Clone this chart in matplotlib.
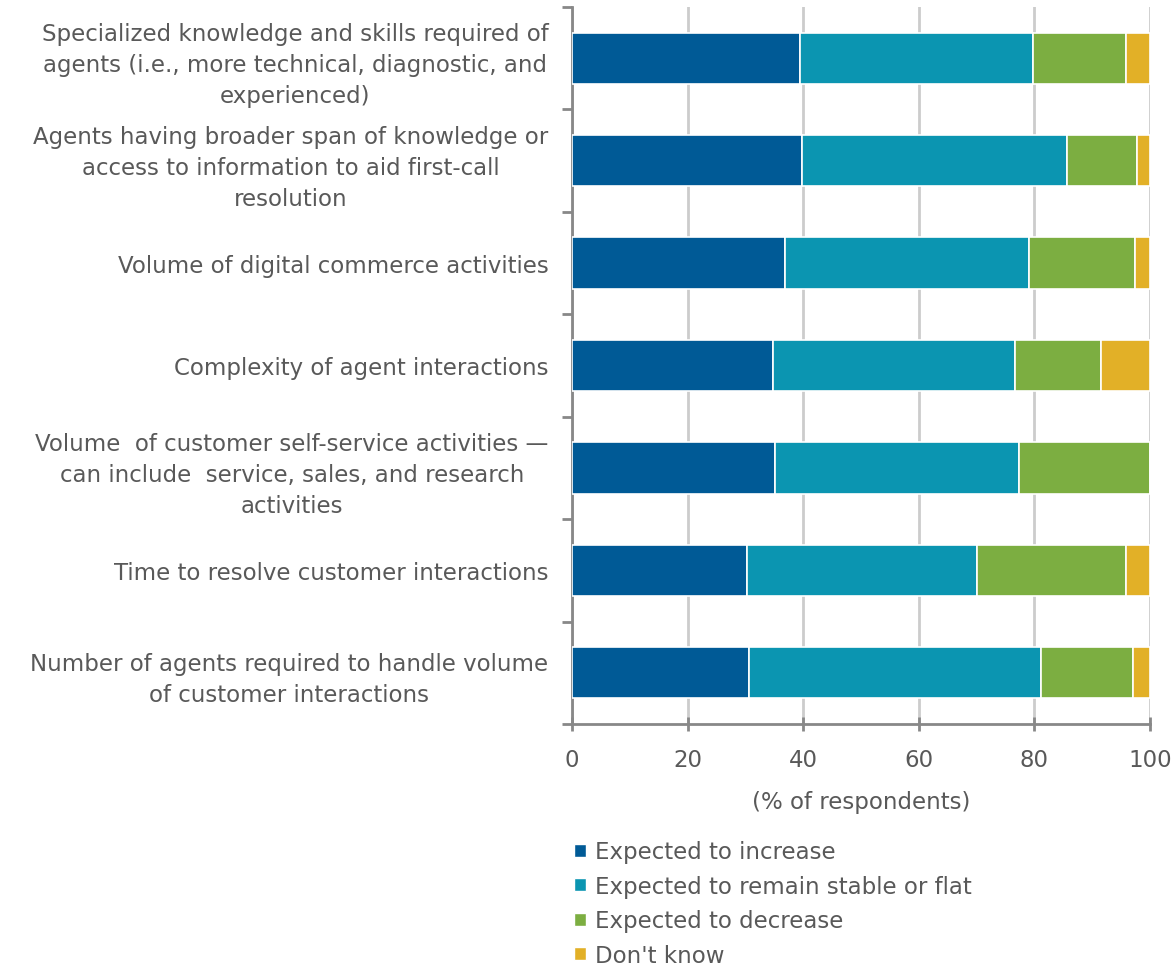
import numpy as np
import matplotlib.pyplot as plt
from matplotlib.patches import Patch

categories = [
    "Specialized knowledge and skills required of\nagents (i.e., more technical, diagnostic, and\nexperienced)",
    "Agents having broader span of knowledge or\naccess to information to aid first-call\nresolution",
    "Volume of digital commerce activities",
    "Complexity of agent interactions",
    "Volume  of customer self-service activities \u2014\ncan include  service, sales, and research\nactivities",
    "Time to resolve customer interactions",
    "Number of agents required to handle volume\nof customer interactions",
]
increase = [39.5, 39.8, 36.8, 34.8, 35.1, 30.2, 30.6]
stable = [40.2, 45.9, 42.2, 41.9, 42.3, 39.9, 50.6]
decrease = [16.1, 12.0, 18.4, 14.9, 22.6, 25.8, 15.9]
dont_know = [4.2, 2.3, 2.6, 8.4, 0.0, 4.1, 2.9]

series_names = ["Expected to increase", "Expected to remain stable or flat",
                "Expected to decrease", "Don't know"]
colors = ["#005A96", "#0B95B1", "#7CAE41", "#E2B027"]
grey = "#595959"
fs = 16.5

fig = plt.figure(figsize=(11.76, 9.70), dpi=100)
ax = fig.add_axes([572/1176, 1-725/970, (1150-572)/1176, (725-8)/970])

y = np.arange(len(categories))
left = np.zeros(len(categories))
for vals, c in zip([increase, stable, decrease, dont_know], colors):
    vals = np.array(vals)
    ax.barh(y, vals, left=left, height=0.5, color=c, edgecolor="white", linewidth=1.2, zorder=3)
    left += vals

ax.set_xlim(0, 100)
ax.set_ylim(len(categories)-0.5, -0.5)
ax.set_xticks([0, 20, 40, 60, 80, 100])
ax.grid(axis="x", color="#cccccc", linewidth=2, zorder=0)

ax.set_yticks(y)
ax.set_yticklabels(categories, fontsize=fs, color=grey, multialignment="center", linespacing=1.45)
ax.tick_params(axis="y", which="major", length=0, pad=17)
ax.set_yticks(np.arange(-0.5, len(categories)), minor=True)
ax.tick_params(axis="y", which="minor", length=7, width=2, color="#888888", direction="out")
ax.tick_params(axis="x", length=10, width=2, color="#888888", direction="inout",
               labelsize=fs, labelcolor=grey, pad=12)

for s in ["top", "right"]:
    ax.spines[s].set_visible(False)
for s in ["left", "bottom"]:
    ax.spines[s].set_color("#888888")
    ax.spines[s].set_linewidth(2)

ax.set_xlabel("(% of respondents)", fontsize=fs, color=grey, labelpad=14)

handles = [Patch(facecolor=c, edgecolor="white", label=n) for n, c in zip(series_names, colors)]
fig.legend(handles=handles, loc="upper left", bbox_to_anchor=(563/1176, 1-830/970),
           frameon=False, fontsize=fs, labelcolor=grey, handlelength=0.5, handleheight=0.5,
           handletextpad=0.4, labelspacing=0.5, borderpad=0)

fig.savefig("out.png", dpi=100)
